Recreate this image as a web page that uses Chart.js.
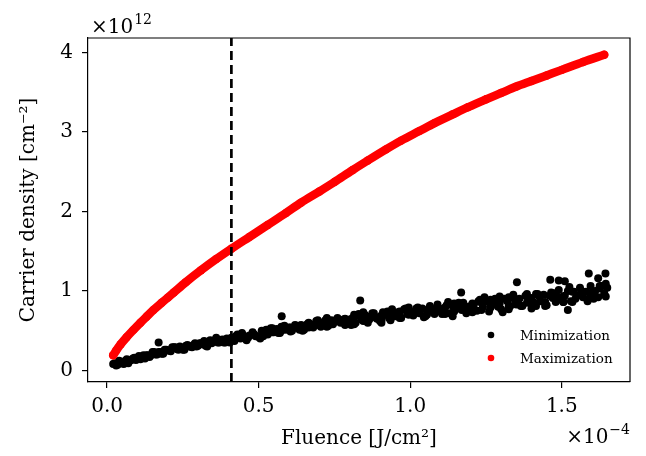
<!DOCTYPE html>
<html>
<head>
<meta charset="utf-8">
<script src="https://cdn.jsdelivr.net/npm/chart.js@4.4.0/dist/chart.umd.min.js"></script>
<style>
  html, body { margin: 0; padding: 0; background: #fff; }
  #c { display: block; }
</style>
</head>
<body>
<canvas id="c" width="646" height="456"></canvas>
<script>
// fluence in units of 1e-4 J/cm^2, carrier density in units of 1e12 cm^-2
var seriesNames = ['Minimization', 'Maximization'];

var maxX = [0.02, 0.03, 0.045, 0.065, 0.087, 0.11, 0.13, 0.153, 0.18, 0.20, 0.22, 0.26, 0.31, 0.36, 0.41, 0.47, 0.53, 0.59,
  0.64, 0.70, 0.75, 0.81, 0.86, 0.92, 0.97, 1.03, 1.08, 1.14, 1.19, 1.25, 1.30, 1.35, 1.40, 1.45, 1.50, 1.57, 1.64];
var maxY = [0.19, 0.25, 0.33, 0.42, 0.51, 0.60, 0.675, 0.76, 0.85, 0.915, 0.98, 1.11, 1.26, 1.40, 1.53, 1.68, 1.83, 1.98,
  2.11, 2.25, 2.37, 2.52, 2.64, 2.78, 2.89, 3.01, 3.11, 3.22, 3.31, 3.41, 3.49, 3.57, 3.64, 3.71, 3.78, 3.88, 3.97];

var minX = [
  0.02, 0.03, 0.04, 0.05, 0.06, 0.07, 0.08, 0.09, 0.10, 0.11, 0.12, 0.13, 0.14, 0.15, 0.16, 0.17, 0.18, 0.19, 0.20,
  0.21, 0.22, 0.23, 0.24, 0.25, 0.26, 0.27, 0.28, 0.29, 0.30, 0.31, 0.32, 0.33, 0.34, 0.35, 0.36, 0.37, 0.38, 0.39, 0.40,
  0.41, 0.42, 0.43, 0.44, 0.45, 0.46, 0.47, 0.48, 0.49, 0.50, 0.51, 0.52, 0.53, 0.54, 0.55, 0.56, 0.57, 0.58, 0.59, 0.60,
  0.61, 0.62, 0.63, 0.64, 0.65, 0.66, 0.67, 0.68, 0.69, 0.70, 0.71, 0.72, 0.73, 0.74, 0.75, 0.76, 0.77, 0.78, 0.79, 0.80,
  0.81, 0.82, 0.83, 0.84, 0.85, 0.86, 0.87, 0.88, 0.89, 0.90, 0.91, 0.92, 0.93, 0.94, 0.95, 0.96, 0.97, 0.98, 0.99, 1.00,
  1.01, 1.02, 1.03, 1.04, 1.05, 1.06, 1.07, 1.08, 1.09, 1.10, 1.11, 1.12, 1.13, 1.14, 1.15, 1.16, 1.17, 1.18, 1.19, 1.20,
  1.21, 1.22, 1.23, 1.24, 1.25, 1.26, 1.27, 1.28, 1.29, 1.30, 1.31, 1.32, 1.33, 1.34, 1.35, 1.36, 1.37, 1.38, 1.39, 1.40,
  1.41, 1.42, 1.43, 1.44, 1.45, 1.46, 1.47, 1.48, 1.49, 1.50, 1.51, 1.52, 1.53, 1.54, 1.55, 1.56, 1.57, 1.58, 1.59, 1.60,
  1.61, 1.62, 1.63, 1.64, 1.65,
  0.515, 0.545, 0.575, 0.605, 0.635, 0.665, 0.695, 0.725, 0.755, 0.785, 0.815, 0.845, 0.875, 0.905, 0.935, 0.965, 0.995,
  1.025, 1.055, 1.085, 1.115, 1.145, 1.175, 1.205, 1.235, 1.265, 1.295, 1.325, 1.355, 1.385, 1.415, 1.445, 1.475, 1.505,
  1.535, 1.565, 1.595, 1.625, 1.645,
  0.025, 0.035, 0.045, 0.055, 0.065, 0.075, 0.085, 0.095, 0.105, 0.115, 0.125, 0.135, 0.145, 0.155, 0.165, 0.175, 0.185,
  0.195, 0.205, 0.215, 0.225, 0.235, 0.245, 0.255, 0.265, 0.275, 0.285, 0.295, 0.305, 0.315, 0.325, 0.335, 0.345, 0.355,
  0.365, 0.375, 0.385, 0.395,
  0.425, 0.455, 0.485, 0.515, 0.545, 0.575, 0.605, 0.635, 0.665, 0.695, 0.725, 0.755, 0.785, 0.815, 0.845, 0.875, 0.905,
  0.935, 0.965, 0.995, 1.025, 1.055, 1.085, 1.115, 1.145, 1.175, 1.205, 1.235, 1.265, 1.295, 1.325, 1.355, 1.385, 1.415,
  1.445, 1.475, 1.505, 1.535, 1.565, 1.595, 1.625,
  0.405, 0.425, 0.445, 0.465, 0.485, 0.505, 0.525, 0.545, 0.565, 0.585, 0.605, 0.625, 0.645, 0.665, 0.685, 0.705, 0.725,
  0.745, 0.765, 0.785, 0.805, 0.825, 0.845, 0.865, 0.885, 0.905, 0.925, 0.945, 0.965, 0.985, 1.005, 1.025, 1.045, 1.065,
  1.085, 1.105, 1.125, 1.145, 1.165, 1.185, 1.205, 1.225, 1.245, 1.265, 1.285, 1.305, 1.325, 1.345, 1.365, 1.385, 1.405,
  1.425, 1.445, 1.465, 1.485, 1.505, 1.525, 1.545, 1.565, 1.585, 1.605, 1.625, 1.645,
  0.17, 0.576, 0.835, 1.168, 1.352, 1.462, 1.49, 1.51, 1.589, 1.62, 1.644, 1.52, 1.40, 1.14
];
var minY = [
  0.08, 0.06, 0.12, 0.09, 0.12, 0.09, 0.13, 0.16, 0.14, 0.14, 0.19, 0.19, 0.17, 0.23, 0.20, 0.23, 0.21, 0.26, 0.25,
  0.24, 0.29, 0.27, 0.30, 0.26, 0.31, 0.30, 0.29, 0.34, 0.31, 0.34, 0.37, 0.30, 0.38, 0.36, 0.41, 0.35, 0.39, 0.35, 0.39,
  0.41, 0.37, 0.45, 0.40, 0.44, 0.38, 0.44, 0.48, 0.43, 0.42, 0.50, 0.48, 0.45, 0.53, 0.48, 0.52, 0.47, 0.55, 0.51, 0.54,
  0.50, 0.57, 0.53, 0.57, 0.51, 0.58, 0.56, 0.54, 0.62, 0.57, 0.60, 0.63, 0.56, 0.63, 0.61, 0.66, 0.60, 0.64, 0.59, 0.64,
  0.66, 0.60, 0.71, 0.64, 0.70, 0.60, 0.68, 0.72, 0.65, 0.62, 0.73, 0.70, 0.66, 0.77, 0.68, 0.73, 0.66, 0.77, 0.71, 0.74,
  0.69, 0.78, 0.72, 0.78, 0.68, 0.77, 0.75, 0.71, 0.83, 0.74, 0.78, 0.82, 0.72, 0.81, 0.77, 0.85, 0.76, 0.81, 0.75, 0.81,
  0.83, 0.75, 0.89, 0.80, 0.87, 0.74, 0.84, 0.90, 0.80, 0.77, 0.90, 0.87, 0.81, 0.95, 0.83, 0.90, 0.81, 0.94, 0.87, 0.91,
  0.84, 0.96, 0.87, 0.95, 0.82, 0.94, 0.91, 0.86, 1.01, 0.89, 0.94, 1.00, 0.87, 0.99, 0.94, 1.04, 0.92, 0.99, 0.90, 0.98,
  1.00, 0.92, 1.06, 0.97, 1.04,
  0.48, 0.48, 0.55, 0.49, 0.56, 0.54, 0.63, 0.57, 0.62, 0.65, 0.58, 0.63, 0.72, 0.69, 0.63, 0.74, 0.70,
  0.79, 0.70, 0.78, 0.79, 0.77, 0.85, 0.74, 0.85, 0.80, 0.93, 0.81, 0.88, 0.93, 0.81, 0.86, 0.97, 0.93,
  0.86, 1.00, 0.95, 1.06, 0.93,
  0.09, 0.07, 0.10, 0.08, 0.14, 0.12, 0.15, 0.13, 0.18, 0.17, 0.15, 0.19, 0.19, 0.23, 0.20, 0.23, 0.21,
  0.26, 0.25, 0.29, 0.29, 0.26, 0.28, 0.26, 0.32, 0.30, 0.32, 0.30, 0.34, 0.33, 0.31, 0.35, 0.34, 0.38,
  0.35, 0.37, 0.35, 0.40,
  0.43, 0.40, 0.45, 0.43, 0.53, 0.50, 0.54, 0.51, 0.59, 0.58, 0.55, 0.63, 0.61, 0.70, 0.62, 0.68, 0.63,
  0.73, 0.70, 0.79, 0.77, 0.71, 0.76, 0.71, 0.84, 0.78, 0.84, 0.76, 0.89, 0.84, 0.77, 0.89, 0.85, 0.96,
  0.85, 0.93, 0.86, 0.99, 0.95, 1.06, 1.03,
  0.35, 0.43, 0.47, 0.41, 0.45, 0.40, 0.51, 0.51, 0.47, 0.56, 0.51, 0.56, 0.50, 0.60, 0.58, 0.55, 0.66,
  0.58, 0.63, 0.57, 0.57, 0.69, 0.73, 0.64, 0.67, 0.60, 0.74, 0.72, 0.66, 0.78, 0.71, 0.76, 0.67, 0.81,
  0.76, 0.71, 0.86, 0.74, 0.80, 0.72, 0.73, 0.87, 0.92, 0.79, 0.83, 0.73, 0.92, 0.89, 0.81, 0.96, 0.86,
  0.93, 0.81, 0.98, 0.93, 0.86, 1.05, 0.90, 0.98, 0.87, 0.90, 1.04, 1.09,
  0.35, 0.68, 0.88, 0.98, 1.11, 1.14, 1.13, 1.12, 1.22, 1.16, 1.22, 0.76, 0.78, 0.68
];

var markerFluence = 0.41;
var xTicks = [0.0, 0.5, 1.0, 1.5];
var yTicks = [0, 1, 2, 3, 4];
var xRange = [-0.063, 1.725];
var yRange = [-0.146, 4.181];

function pairs(xs, ys) {
  var out = [];
  for (var i = 0; i < xs.length; i++) out.push({x: xs[i], y: ys[i]});
  return out;
}

var FONT = "'DejaVu Serif', serif";
Chart.defaults.font.family = FONT;
Chart.defaults.color = '#000';

var extras = {
  id: 'extras',
  afterDraw: function(chart) {
    var ctx = chart.ctx, a = chart.chartArea;
    ctx.save();
    // top and right spines
    ctx.strokeStyle = '#000';
    ctx.lineWidth = 1.2;
    ctx.beginPath();
    ctx.moveTo(a.left, a.top);
    ctx.lineTo(a.right, a.top);
    ctx.lineTo(a.right, a.bottom);
    ctx.stroke();

    // offset multipliers
    ctx.fillStyle = '#000';
    ctx.textBaseline = 'alphabetic';
    ctx.textAlign = 'left';
    ctx.font = '20px ' + FONT;
    ctx.fillText('\u00d710', a.left + 3, 33);
    var w = ctx.measureText('\u00d710').width;
    ctx.font = '14px ' + FONT;
    ctx.fillText('12', a.left + 3 + w + 1, 24);

    ctx.font = '14px ' + FONT;
    var sup = '\u22124';
    var ws = ctx.measureText(sup).width;
    ctx.fillText(sup, a.right - ws, 434);
    ctx.font = '20px ' + FONT;
    ctx.textAlign = 'right';
    ctx.fillText('\u00d710', a.right - ws - 1, 443);

    // legend
    var colors = ['#000', '#ff0000'];
    ctx.font = '13.5px ' + FONT;
    ctx.textAlign = 'left';
    ctx.textBaseline = 'middle';
    for (var i = 0; i < seriesNames.length; i++) {
      var ly = a.bottom - 47 + i * 23;
      ctx.fillStyle = colors[i];
      ctx.beginPath();
      ctx.arc(a.right - 139, ly, 3.3, 0, Math.PI * 2);
      ctx.fill();
      ctx.fillStyle = '#000';
      ctx.fillText(seriesNames[i], a.right - 110, ly + 1);
    }
    ctx.restore();
  }
};

new Chart(document.getElementById('c').getContext('2d'), {
  type: 'scatter',
  data: {
    datasets: [
      {
        type: 'line',
        data: [{x: markerFluence, y: yRange[0]}, {x: markerFluence, y: yRange[1]}],
        borderColor: '#000',
        borderWidth: 2.7,
        borderDash: [9, 5],
        pointRadius: 0,
        clip: 0,
        order: 0
      },
      {
        label: seriesNames[1],
        data: pairs(maxX, maxY),
        showLine: true,
        borderColor: '#ff0000',
        borderWidth: 8.5,
        borderCapStyle: 'round',
        borderJoinStyle: 'round',
        cubicInterpolationMode: 'monotone',
        backgroundColor: '#ff0000',
        pointRadius: 4.2,
        pointBorderWidth: 0,
        order: 1
      },
      {
        label: seriesNames[0],
        data: pairs(minX, minY),
        backgroundColor: '#000',
        pointRadius: 4,
        pointBorderWidth: 0,
        order: 2
      }
    ]
  },
  options: {
    responsive: false,
    animation: false,
    devicePixelRatio: 1,
    events: [],
    layout: { padding: { top: 38, right: 16, left: 0, bottom: 0 } },
    plugins: { legend: { display: false }, tooltip: { enabled: false } },
    scales: {
      x: {
        type: 'linear',
        min: xRange[0],
        max: xRange[1],
        afterFit: function(s) { s.height = 74; },
        afterBuildTicks: function(s) { s.ticks = xTicks.map(function(v) { return {value: v}; }); },
        ticks: {
          font: { size: 20 },
          color: '#000',
          padding: 7,
          maxRotation: 0,
          callback: function(v) { return v.toFixed(1); }
        },
        grid: { drawOnChartArea: false, drawTicks: true, tickLength: 6, color: '#000', lineWidth: 1.2 },
        border: { display: true, color: '#000', width: 1.2 },
        title: {
          display: true,
          text: 'Fluence [J/cm\u00b2]',
          font: { size: 20 },
          color: '#000',
          padding: { top: 0, bottom: 5 }
        }
      },
      y: {
        type: 'linear',
        min: yRange[0],
        max: yRange[1],
        afterFit: function(s) { s.width = 88; },
        afterBuildTicks: function(s) { s.ticks = yTicks.map(function(v) { return {value: v}; }); },
        ticks: {
          font: { size: 20 },
          color: '#000',
          padding: 9,
          callback: function(v) { return String(v); }
        },
        grid: { drawOnChartArea: false, drawTicks: true, tickLength: 6, color: '#000', lineWidth: 1.2 },
        border: { display: true, color: '#000', width: 1.2 },
        title: {
          display: true,
          text: 'Carrier density [cm\u207b\u00b2]',
          font: { size: 20 },
          color: '#000',
          padding: { top: 17, bottom: 0 }
        }
      }
    }
  },
  plugins: [extras]
});
</script>
</body>
</html>
